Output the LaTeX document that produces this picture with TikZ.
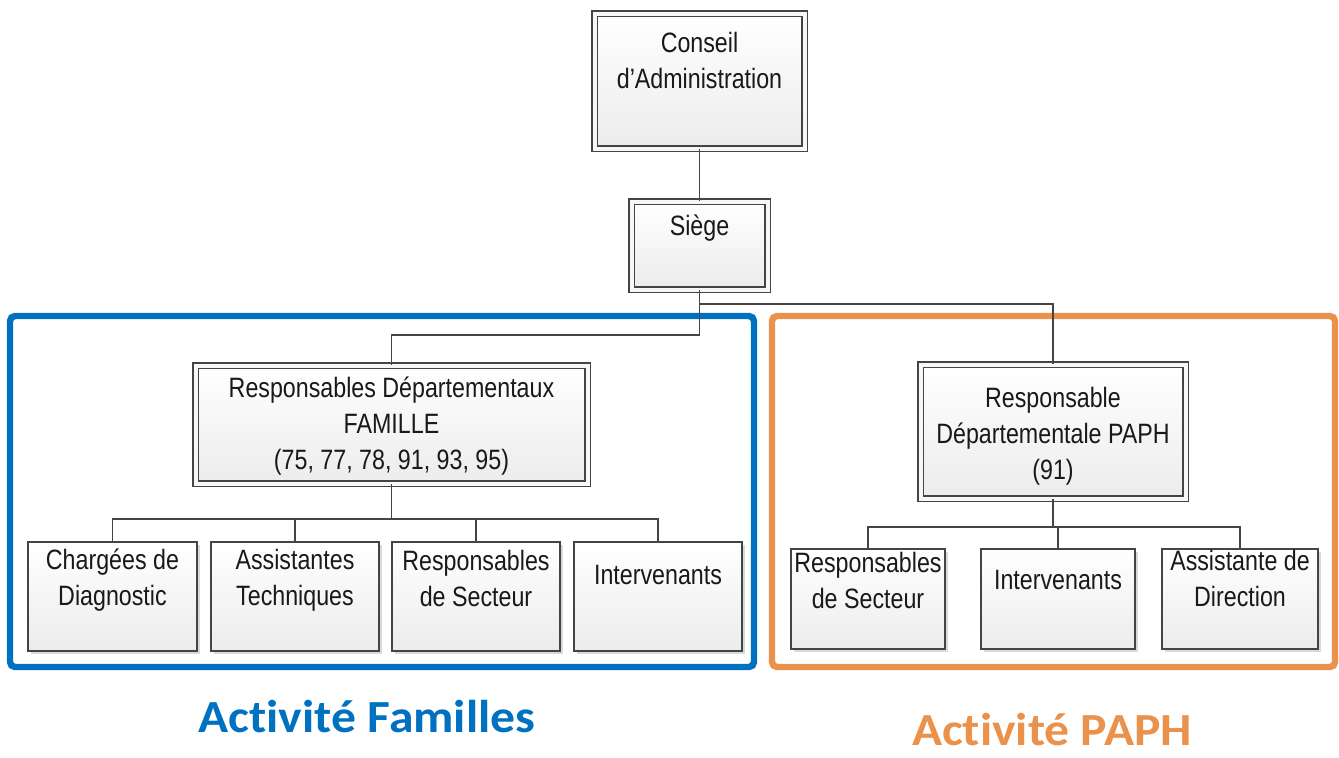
\documentclass[tikz,border=0pt]{standalone}
\usepackage{fontspec}
\setmainfont[FakeStretch=0.83]{Liberation Sans}
\newfontfamily\titlefont[FakeStretch=1.08, Ligatures={NoCommon,NoContextual}]{Carlito}
\usepackage{xcolor}
\usepackage{tikz}
\usetikzlibrary{positioning,fit,shadows}
\definecolor{famblue}{HTML}{0070C0}
\definecolor{paphorange}{HTML}{EA924C}
\definecolor{boxline}{HTML}{444444}

\begin{document}
\begin{tikzpicture}[
  x=0.5pt, y=-0.5pt,
  font=\fontsize{14}{18}\selectfont,
  dbox/.style={draw=boxline, line width=0.75pt, double=gray!6, double distance=2pt,
               top color=white, bottom color=gray!15, inner sep=0pt,
               drop shadow={shadow xshift=1.5pt, shadow yshift=-1.5pt, opacity=0.3}},
  sbox/.style={draw=boxline, line width=0.85pt, top color=white, bottom color=gray!15,
               inner sep=0pt,
               drop shadow={shadow xshift=1.5pt, shadow yshift=-1.5pt, opacity=0.3}},
  txt/.style={anchor=north, align=center, inner sep=0pt, text=black!90},
  conn/.style={draw=boxline, line width=0.85pt},
  zone/.style={draw=#1, line width=3.2pt, rounded corners=2.5pt, inner sep=0pt},
  title/.style={anchor=base, text=#1, font=\titlefont\bfseries\fontsize{23}{28}\selectfont}]
\useasboundingbox (0,0) rectangle (1339,757);

% activity frames
\node[zone=famblue, fit={(10,316) (754,667)}] (fam) {};
\node[zone=paphorange, fit={(772,316) (1335,667)}] (paph) {};

% top of the chart
\node[dbox, fit={(594.5,13.5) (804.5,148.5)}] (ca) {};
\node[txt] (caT) at (699.5,31.5) {Conseil\\d'Administration};
\node[dbox, fit={(631.5,201.5) (767.5,289.5)}] (si) {};
\node[txt] (siT) at (699.5,214.5) {Siège};

% departmental heads
\node[dbox, fit={(195.5,365.5) (587.5,483.5)}] (rf) {};
\node[txt] (rfT) at (391.5,376.5) {Responsables Départementaux\\FAMILLE\\(75, 77, 78, 91, 93, 95)};
\node[dbox, fit={(920.5,364.5) (1185.5,498.5)}] (rp) {};
\node[txt] (rpT) at (1053,386.5) {Responsable\\Départementale PAPH\\(91)};

% famille teams
\node[sbox, fit={(28,542) (197,651)}] (f1) {};
\node[txt] (f1T) at (112.5,548.5) {Chargées de\\Diagnostic};
\node[sbox, fit={(211,542) (379,651)}] (f2) {};
\node[txt] (f2T) at (295,548.5) {Assistantes\\Techniques};
\node[sbox, fit={(392,542) (560,651)}] (f3) {};
\node[txt] (f3T) at (476,549.5) {Responsables\\de Secteur};
\node[sbox, fit={(574,542) (742,651)}] (f4) {};
\node[txt] (f4T) at (658,565) {Intervenants};

% PAPH teams
\node[sbox, fit={(791,549) (945,649)}] (p1) {};
\node[txt] (p1T) at (868,551.5) {Responsables\\de Secteur};
\node[sbox, fit={(981,549) (1135,649)}] (p2) {};
\node[txt] (p2T) at (1058,569.5) {Intervenants};
\node[sbox, fit={(1162,549) (1318,649)}] (p3) {};
\node[txt] (p3T) at (1240,549.5) {Assistante de\\Direction};

% connectors
\coordinate (jt) at (699.5,304);
\coordinate (jf) at (391.5,519);
\coordinate (jp) at (1053,527);
\draw[conn] (ca) -- (si);
\draw[conn] (si.south) -- ++(0,45) -| (rf.north);
\draw[conn] (jt) -| (rp.north);
\draw[conn] (rf.south) -- (jf);
\foreach \n in {f1,f2,f3,f4} \draw[conn] (jf) -| (\n.north);
\draw[conn] (rp.south) -- (jp);
\foreach \n in {p1,p2,p3} \draw[conn] (jp) -| (\n.north);

\node[title=famblue] (tf) at (367,732) {Activité Familles};
\node[title=paphorange] (tp) at (1052,745) {Activité PAPH};
\end{tikzpicture}
\end{document}
